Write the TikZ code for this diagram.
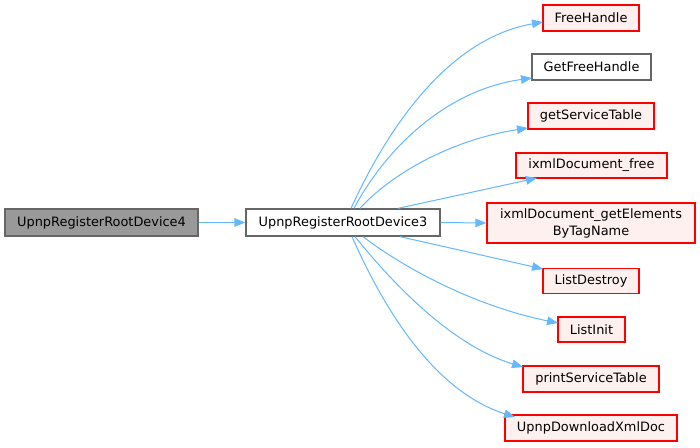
\documentclass[tikz,border=0pt]{standalone}
\usepackage{fontspec}
\setmainfont{DejaVu Sans}
\usetikzlibrary{arrows.meta}
\definecolor{edgeblue}{HTML}{63B8FF}
\definecolor{redfill}{HTML}{FFF0F0}
\definecolor{grayborder}{HTML}{666666}
\definecolor{grayfill}{HTML}{999999}
\begin{document}
\begin{tikzpicture}[x=1pt,y=-1pt,
  font=\fontsize{12.9}{17}\selectfont,
  box/.style={draw=grayborder, line width=1.3pt, inner sep=0pt, align=center},
  redbox/.style={box, draw=red, fill=redfill},
  edge/.style={draw=edgeblue, line width=1pt, -{Triangle[length=11pt,width=8.5pt]}}]
\useasboundingbox[fill=white] (0,0) rectangle (700,447);
\node[box, fill=grayfill, minimum width=193, minimum height=27] (r4) at (101.5,222.5) {UpnpRegisterRootDevice4};
\node[box, fill=white, minimum width=194, minimum height=27] (r3) at (343,222.5) {UpnpRegisterRootDevice3};
\node[redbox, minimum width=96, minimum height=26] (fh) at (591,18) {FreeHandle};
\node[box, fill=white, minimum width=119, minimum height=26] (gfh) at (591.5,67) {GetFreeHandle};
\node[redbox, minimum width=126, minimum height=26] (gst) at (591,116) {getServiceTable};
\node[redbox, minimum width=151, minimum height=25] (idf) at (591.5,165.5) {ixmlDocument\_free};
\node[redbox, minimum width=208, minimum height=40] (ige) at (591,223) {ixmlDocument\_getElements\\ByTagName};
\node[redbox, minimum width=96, minimum height=25] (ld) at (591,281) {ListDestroy};
\node[redbox, minimum width=67, minimum height=25] (li) at (591.5,329.5) {ListInit};
\node[redbox, minimum width=136, minimum height=26] (pst) at (591,379) {printServiceTable};
\node[redbox, minimum width=172, minimum height=26] (udx) at (591,428) {UpnpDownloadXmlDoc};
\coordinate (t1) at (543,22);
\coordinate (t2) at (532,78);
\coordinate (t3) at (528,128);
\coordinate (t4) at (537,178);
\coordinate (t6) at (543,269);
\coordinate (t7) at (558,323);
\coordinate (t8) at (523,367);
\coordinate (t9) at (515,417);
\path[edge] (r4.east) -- (r3.west);
\path[edge] ([xshift=8]r3.north) .. controls (380,145) and (440,40) .. (t1);
\path[edge] ([xshift=11]r3.north) .. controls (385,150) and (445,90) .. (t2);
\path[edge] ([xshift=17]r3.north) .. controls (390,175) and (450,140) .. (t3);
\path[edge] ([xshift=55]r3.north) -- (t4);
\path[edge] (r3.east) -- (ige.west);
\path[edge] ([xshift=57]r3.south) -- (t6);
\path[edge] ([xshift=20]r3.south) .. controls (400,265) and (470,305) .. (t7);
\path[edge] ([xshift=12]r3.south) .. controls (390,280) and (450,345) .. (t8);
\path[edge] ([xshift=9]r3.south) .. controls (380,300) and (430,390) .. (t9);
\end{tikzpicture}
\end{document}
